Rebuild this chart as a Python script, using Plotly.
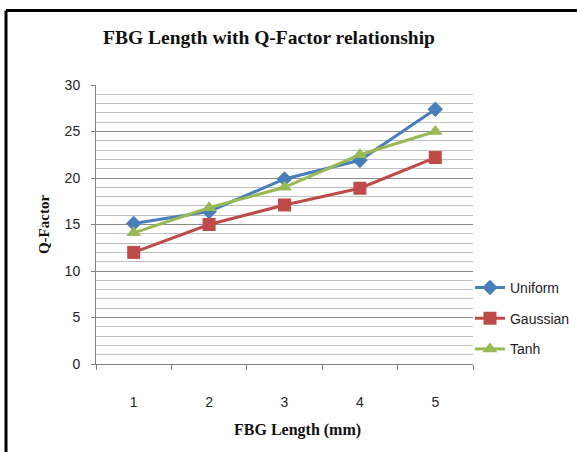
import plotly.graph_objects as go

lengths = ["1", "2", "3", "4", "5"]
uniform = [15.1, 16.4, 19.9, 21.9, 27.4]
gaussian = [12.0, 15.0, 17.1, 18.9, 22.2]
tanh = [14.1, 16.8, 19.0, 22.5, 25.0]

series = [
    ("Uniform", uniform, "#4A7EBB", "diamond", 12),
    ("Gaussian", gaussian, "#BE4B48", "square", 13),
    ("Tanh", tanh, "#98B954", "triangle-up", 13),
]

fig = go.Figure()
for i, (name, vals, col, sym, sz) in enumerate(series):
    fig.add_trace(go.Scatter(
        x=lengths, y=vals, name=name, mode="lines+markers",
        line=dict(color=col, width=3),
        marker=dict(symbol=sym, size=sz, color=col),
        legendgroup=name,
    ))

tickfont = dict(family="Liberation Sans Narrow, Liberation Sans, Arial", size=14, color="#262626")
serif_bold = "Liberation Serif, Times New Roman, serif"

fig.update_layout(
    width=577, height=452,
    margin=dict(l=96, r=104, t=85, b=88, autoexpand=False),
    paper_bgcolor="white", plot_bgcolor="white",
    title=dict(text="<b>FBG Length with Q-Factor relationship</b>",
               font=dict(family=serif_bold, size=19.5, color="#111111"),
               x=269/577, xanchor="center", y=1 - 37/452, yanchor="middle"),
    showlegend=True,
    legend=dict(x=0.992, xanchor="left", y=0.33, yanchor="top",
                font=dict(family="Liberation Sans Narrow, Liberation Sans, Arial", size=14, color="#222222"),
                tracegroupgap=9.5, bgcolor="rgba(0,0,0,0)", itemwidth=30),
    xaxis=dict(type="category", range=[-0.5, 4.5], tickson="boundaries", ticks="outside", ticklen=5,
               tickcolor="#808080", showline=True, linecolor="#808080", linewidth=1,
               showgrid=False, tickfont=tickfont, ticklabelstandoff=25),
    yaxis=dict(range=[0, 30], dtick=5, ticks="outside", ticklen=4, tickcolor="#808080",
               showline=True, linecolor="#808080", linewidth=1,
               showgrid=True, gridcolor="#8C8C8C", gridwidth=1,
               minor=dict(dtick=1, showgrid=True, gridcolor="#C0C0C0", gridwidth=1),
               tickfont=tickfont, ticklabelstandoff=8, zeroline=False,
               title=dict(text="<b>Q-Factor</b>", font=dict(family=serif_bold, size=15, color="#111111"),
                          standoff=11)),
    annotations=[
        dict(text="<b>FBG Length (mm)</b>", xref="paper", yref="paper",
             x=(297 - 96) / 377, y=(364 - 430) / 279, xanchor="center", yanchor="middle",
             showarrow=False, font=dict(family=serif_bold, size=16, color="#111111")),
    ],
    shapes=[
        dict(type="line", xref="paper", yref="paper", x0=(6 - 96) / 377, x1=(600 - 96) / 377,
             y0=(364 - 10.5) / 279, y1=(364 - 10.5) / 279, line=dict(color="black", width=3)),
        dict(type="line", xref="paper", yref="paper", x0=(6 - 96) / 377, x1=(6 - 96) / 377,
             y0=(364 - 10.5) / 279, y1=(364 - 460) / 279, line=dict(color="black", width=3)),
    ],
)

fig.write_html("out.html")
